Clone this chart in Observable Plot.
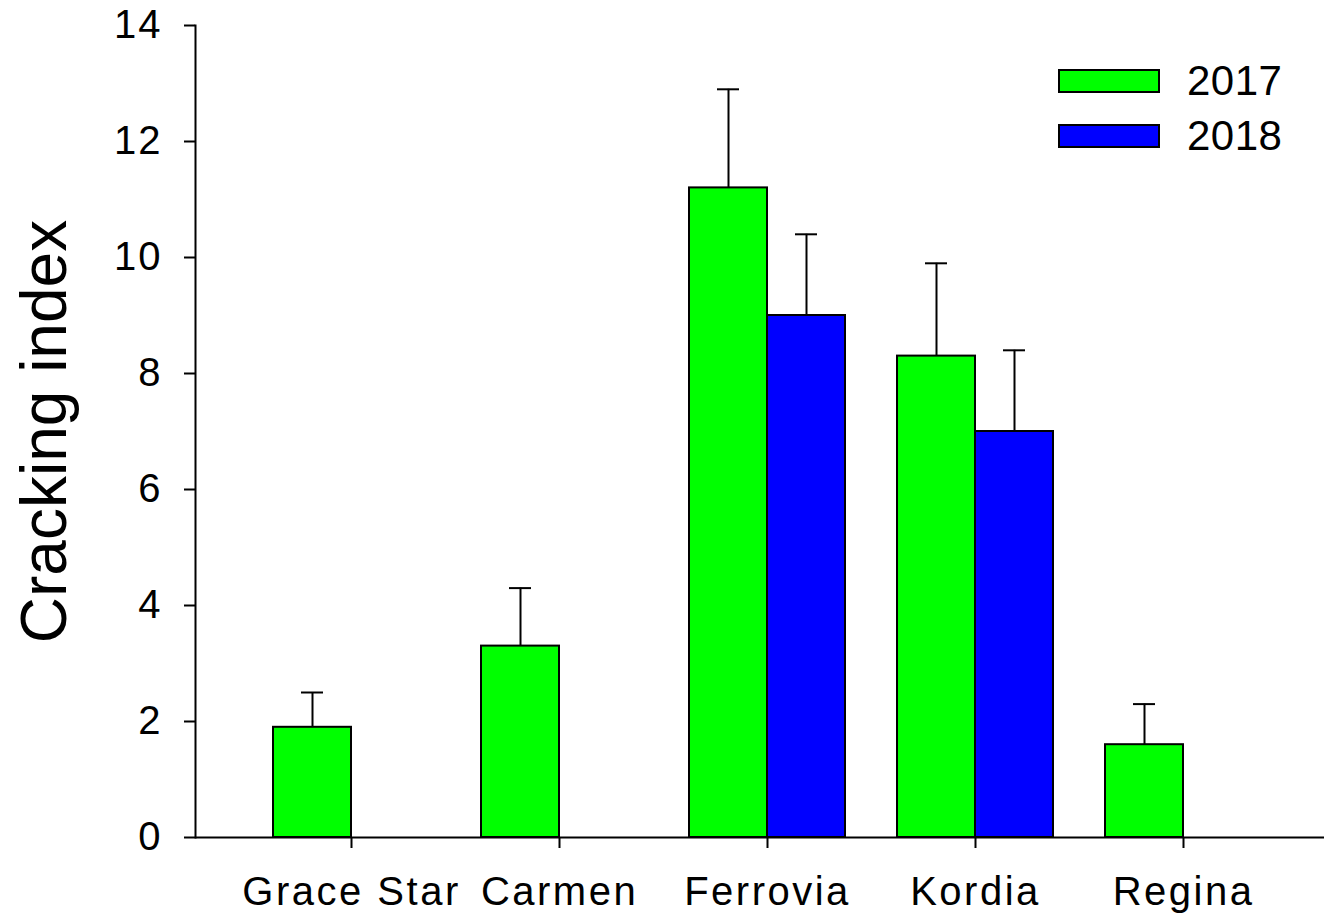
<!DOCTYPE html>
<html>
<head>
<meta charset="utf-8">
<script src="https://cdn.jsdelivr.net/npm/d3@7"></script>
<script src="https://cdn.jsdelivr.net/npm/@observablehq/plot@0.6"></script>
<style>
  html, body { margin: 0; padding: 0; background: #fff; overflow: hidden; }
  #wrap { position: relative; width: 1324px; height: 918px; font-family: "Liberation Sans", Arial, sans-serif; }
  #legend { position: absolute; left: 1058px; top: 69px; }
  .row { display: flex; align-items: center; height: 24px; margin-bottom: 31px; }
  .sw { width: 102px; height: 24px; box-sizing: border-box; border: 2px solid #000; }
  .lab { margin-left: 27px; font-size: 42px; color: #000; line-height: 24px; letter-spacing: 0.5px; }
  svg [aria-label="y-axis label"] { font-size: 64px; }
  svg [aria-label="x-axis tick label"] { letter-spacing: 2.5px; }
  svg [aria-label="y-axis tick label"] { letter-spacing: 2px; }
</style>
</head>
<body>
<div id="wrap"><div id="legend"></div></div>
<script>
const categories = ["Grace Star", "Carmen", "Ferrovia", "Kordia", "Regina"];
const years = ["2017", "2018"];
const colors = ["#00ff00", "#0000ff"];
const mean2017 = [1.9, 3.3, 11.2, 8.3, 1.6];
const err2017 = [0.6, 1.0, 1.7, 1.6, 0.7];
const mean2018 = [null, null, 9.0, 7.0, null];
const err2018 = [null, null, 1.4, 1.4, null];
const yTicks = [0, 2, 4, 6, 8, 10, 12, 14];

function rows(means, errs) {
  return categories
    .map((c, i) => ({cat: c, mean: means[i], hi: means[i] == null ? null : means[i] + errs[i]}))
    .filter(d => d.mean != null);
}
const rows17 = rows(mean2017, err2017);
const rows18 = rows(mean2018, err2018);

const common = {width: 1324, height: 918, marginLeft: 195, marginRight: 0, marginTop: 25, marginBottom: 81};
const xOpts = {domain: categories, paddingInner: 0.25, paddingOuter: 0.336, align: 0.554};
const yOpts = {domain: [0, 14]};

const probe = Plot.plot({...common, x: xOpts, y: yOpts, marks: [Plot.barY(rows17, {x: "cat", y: "mean"})]});
const bw = probe.scale("x").bandwidth;
const capHalf = 11;

const lineStyle = {stroke: "#000", strokeWidth: 2};

const chart = Plot.plot({
  ...common,
  style: {fontFamily: "'Liberation Sans', Arial, sans-serif", background: "transparent", color: "#000", overflow: "visible"},
  x: {...xOpts, label: null},
  y: {...yOpts, label: "Cracking index"},
  marks: [
    Plot.barY(rows17, {x: "cat", y: "mean", fill: colors[0], stroke: "#000", strokeWidth: 2, insetLeft: 0, insetRight: bw / 2}),
    Plot.barY(rows18, {x: "cat", y: "mean", fill: colors[1], stroke: "#000", strokeWidth: 2, insetLeft: bw / 2, insetRight: 0}),
    Plot.ruleX(rows17, {x: "cat", y1: "mean", y2: "hi", dx: -bw / 4, ...lineStyle}),
    Plot.ruleX(rows18, {x: "cat", y1: "mean", y2: "hi", dx: bw / 4, ...lineStyle}),
    Plot.tickY(rows17, {x: "cat", y: "hi", dx: -bw / 4, insetLeft: bw / 2 - capHalf, insetRight: bw / 2 - capHalf, ...lineStyle}),
    Plot.tickY(rows18, {x: "cat", y: "hi", dx: bw / 4, insetLeft: bw / 2 - capHalf, insetRight: bw / 2 - capHalf, ...lineStyle}),
    Plot.ruleY([0], lineStyle),
    Plot.frame({anchor: "left", ...lineStyle}),
    Plot.axisY({ticks: yTicks, tickSize: 11, tickPadding: 22, fontSize: 40, strokeWidth: 2,
      label: "Cracking index", labelAnchor: "center", labelOffset: 175, labelArrow: "none"}),
    Plot.axisX({tickSize: 11, tickPadding: 28, fontSize: 40, strokeWidth: 2, label: null})
  ]
});
document.getElementById("wrap").prepend(chart);

const legend = document.getElementById("legend");
years.forEach((y, i) => {
  const row = document.createElement("div");
  row.className = "row";
  const sw = document.createElement("div");
  sw.className = "sw";
  sw.style.background = colors[i];
  const lab = document.createElement("span");
  lab.className = "lab";
  lab.textContent = y;
  row.append(sw, lab);
  legend.append(row);
});
</script>
</body>
</html>
